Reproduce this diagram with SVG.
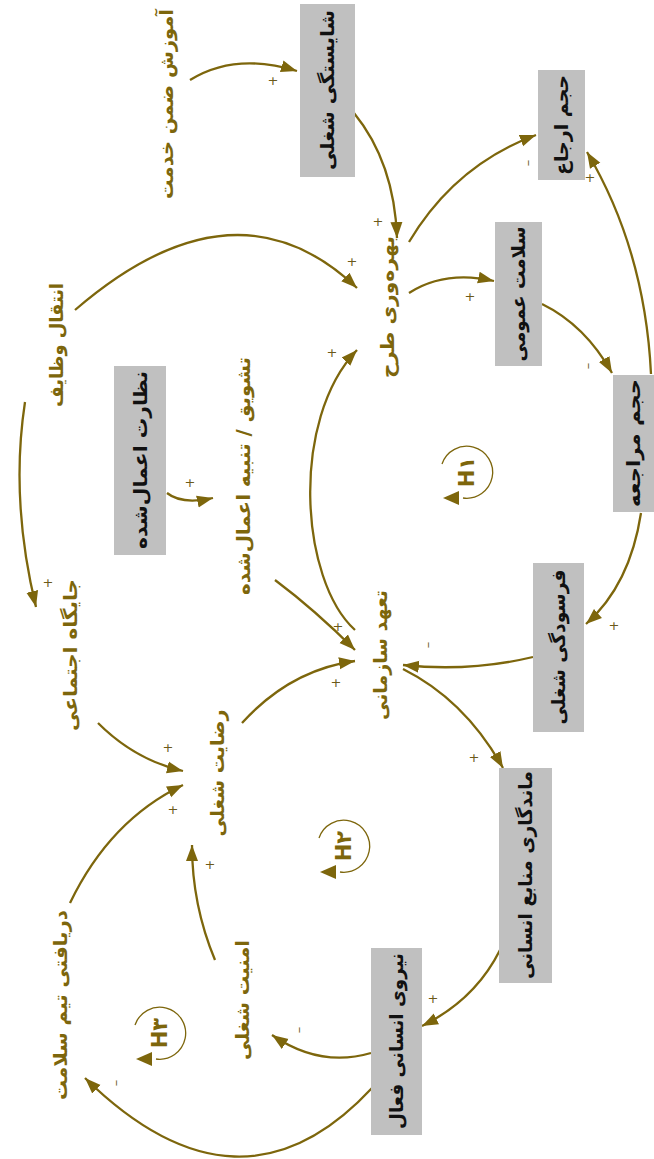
<svg xmlns="http://www.w3.org/2000/svg" width="654" height="1159" viewBox="0 0 654 1159">
  <style>
    .box { fill: #c0c0c0; }
    .node-label { font-family: "DejaVu Sans", sans-serif; font-weight: bold; font-size: 19px; fill: #111; }
    .var-label { font-family: "DejaVu Sans", sans-serif; font-weight: bold; font-size: 19px; fill: #7d660c; }
    .link { fill: none; stroke: #7d660c; stroke-width: 2.3; marker-end: url(#arrow); }
    .sign { font-family: "DejaVu Sans", sans-serif; font-size: 13px; fill: #6b5a1a; }
    .loop-ring { fill: none; stroke: #7d660c; stroke-width: 1.3; }
    .loop-head { fill: #7d660c; }
    .loop-label { font-family: "DejaVu Sans", sans-serif; font-weight: bold; font-size: 21px; fill: #7d660c; }
  </style>
  <defs>
    <marker id="arrow" markerUnits="userSpaceOnUse" markerWidth="18" markerHeight="14" refX="16" refY="7" orient="auto">
      <path d="M0,1 L16,7 L0,13 Z" fill="#7d660c"/>
    </marker>
  </defs>

  <rect width="654" height="1159" fill="#ffffff"/>

  <!-- connectors -->
  <g id="connectors">
    <path class="link" d="M190,80 Q235,52 297,71"/>
    <path class="link" d="M354,113 C376,140 395,180 397,238"/>
    <path class="link" d="M409,242 Q455,165 536,135"/>
    <path class="link" d="M409,293 Q445,270 494,281"/>
    <path class="link" d="M542,304 Q585,325 612,373"/>
    <path class="link" d="M651,374 Q645,250 587,152"/>
    <path class="link" d="M641,513 Q630,585 586,624"/>
    <path class="link" d="M533,657 Q470,672 403,665"/>
    <path class="link" d="M403,669 Q465,700 503,768"/>
    <path class="link" d="M500,950 Q475,1000 422,1026"/>
    <path class="link" d="M371,1053 Q320,1068 272,1035"/>
    <path class="link" d="M372,1088 Q240,1230 85,1078"/>
    <path class="link" d="M70,903 Q110,820 183,785"/>
    <path class="link" d="M215,960 Q192,905 192,845"/>
    <path class="link" d="M98,723 Q135,760 183,771"/>
    <path class="link" d="M25,402 Q10,500 36,607"/>
    <path class="link" d="M75,310 Q235,172 357,288"/>
    <path class="link" d="M167,493 Q182,505 213,498"/>
    <path class="link" d="M275,580 Q315,610 355,650"/>
    <path class="link" d="M242,723 Q290,670 355,661"/>
    <path class="link" d="M355,630 C300,580 290,420 357,350"/>
  </g>

  <!-- polarity signs -->
  <g id="signs">
    <text class="sign" x="273" y="85" text-anchor="middle">+</text>
    <text class="sign" x="378" y="226" text-anchor="middle">+</text>
    <text class="sign" transform="translate(527,163) rotate(-90)" text-anchor="middle" dominant-baseline="central">–</text>
    <text class="sign" x="470" y="301" text-anchor="middle">+</text>
    <text class="sign" transform="translate(587,366) rotate(-90)" text-anchor="middle" dominant-baseline="central">–</text>
    <text class="sign" x="590" y="182" text-anchor="middle">+</text>
    <text class="sign" x="614" y="630" text-anchor="middle">+</text>
    <text class="sign" transform="translate(427,645) rotate(-90)" text-anchor="middle" dominant-baseline="central">–</text>
    <text class="sign" x="474" y="762" text-anchor="middle">+</text>
    <text class="sign" x="433" y="1003" text-anchor="middle">+</text>
    <text class="sign" transform="translate(298,1030) rotate(-90)" text-anchor="middle" dominant-baseline="central">–</text>
    <text class="sign" transform="translate(115,1083) rotate(-90)" text-anchor="middle" dominant-baseline="central">–</text>
    <text class="sign" x="173" y="814" text-anchor="middle">+</text>
    <text class="sign" x="210" y="869" text-anchor="middle">+</text>
    <text class="sign" x="168" y="752" text-anchor="middle">+</text>
    <text class="sign" x="48" y="587" text-anchor="middle">+</text>
    <text class="sign" x="352" y="266" text-anchor="middle">+</text>
    <text class="sign" x="190" y="487" text-anchor="middle">+</text>
    <text class="sign" x="338" y="631" text-anchor="middle">+</text>
    <text class="sign" x="336" y="687" text-anchor="middle">+</text>
    <text class="sign" x="332" y="357" text-anchor="middle">+</text>
  </g>

  <!-- boxed variables -->
  <g id="n-competence">
    <rect class="box" x="300" y="4" width="55" height="173"/>
    <text class="node-label" transform="translate(327,90) rotate(-90)" text-anchor="middle" dominant-baseline="central" textLength="160" lengthAdjust="spacingAndGlyphs">شایستگی شغلی</text>
  </g>
  <g id="n-referral-volume">
    <rect class="box" x="538" y="70" width="47" height="110"/>
    <text class="node-label" transform="translate(561,125) rotate(-90)" text-anchor="middle" dominant-baseline="central" textLength="100" lengthAdjust="spacingAndGlyphs">حجم ارجاع</text>
  </g>
  <g id="n-public-health">
    <rect class="box" x="495" y="222" width="47" height="144"/>
    <text class="node-label" transform="translate(518,294) rotate(-90)" text-anchor="middle" dominant-baseline="central" textLength="135" lengthAdjust="spacingAndGlyphs">سلامت عمومی</text>
  </g>
  <g id="n-visit-volume">
    <rect class="box" x="613" y="375" width="41" height="137"/>
    <text class="node-label" transform="translate(633,443) rotate(-90)" text-anchor="middle" dominant-baseline="central" textLength="128" lengthAdjust="spacingAndGlyphs">حجم مراجعه</text>
  </g>
  <g id="n-supervision">
    <rect class="box" x="114" y="366" width="52" height="189"/>
    <text class="node-label" transform="translate(140,460) rotate(-90)" text-anchor="middle" dominant-baseline="central" textLength="178" lengthAdjust="spacingAndGlyphs">نظارت اعمال‌شده</text>
  </g>
  <g id="n-burnout">
    <rect class="box" x="533" y="563" width="51" height="169"/>
    <text class="node-label" transform="translate(558,647) rotate(-90)" text-anchor="middle" dominant-baseline="central" textLength="155" lengthAdjust="spacingAndGlyphs">فرسودگی شغلی</text>
  </g>
  <g id="n-retention">
    <rect class="box" x="499" y="768" width="53" height="215"/>
    <text class="node-label" transform="translate(525,875) rotate(-90)" text-anchor="middle" dominant-baseline="central" textLength="208" lengthAdjust="spacingAndGlyphs">ماندگاری منابع انسانی</text>
  </g>
  <g id="n-active-workforce">
    <rect class="box" x="371" y="948" width="51" height="187"/>
    <text class="node-label" transform="translate(396,1041) rotate(-90)" text-anchor="middle" dominant-baseline="central" textLength="176" lengthAdjust="spacingAndGlyphs">نیروی انسانی فعال</text>
  </g>

  <!-- plain variables -->
  <g id="n-training">
    <text class="var-label" transform="translate(166,104) rotate(-90)" text-anchor="middle" dominant-baseline="central" textLength="190" lengthAdjust="spacingAndGlyphs">آموزش ضمن خدمت</text>
  </g>
  <g id="n-job-rotation">
    <text class="var-label" transform="translate(56,345) rotate(-90)" text-anchor="middle" dominant-baseline="central" textLength="124" lengthAdjust="spacingAndGlyphs">انتقال وظایف</text>
  </g>
  <g id="n-reward">
    <text class="var-label" transform="translate(243,476) rotate(-90)" text-anchor="middle" dominant-baseline="central" textLength="238" lengthAdjust="spacingAndGlyphs">تشویق / تنبیه اعمال‌شده</text>
  </g>
  <g id="n-productivity">
    <text class="var-label" transform="translate(387,307) rotate(-90)" text-anchor="middle" dominant-baseline="central" textLength="142" lengthAdjust="spacingAndGlyphs">بهره‌وری طرح</text>
  </g>
  <g id="n-commitment">
    <text class="var-label" transform="translate(380,655) rotate(-90)" text-anchor="middle" dominant-baseline="central" textLength="130" lengthAdjust="spacingAndGlyphs">تعهد سازمانی</text>
  </g>
  <g id="n-satisfaction">
    <text class="var-label" transform="translate(217,773) rotate(-90)" text-anchor="middle" dominant-baseline="central" textLength="127" lengthAdjust="spacingAndGlyphs">رضایت شغلی</text>
  </g>
  <g id="n-social-status">
    <text class="var-label" transform="translate(70,655) rotate(-90)" text-anchor="middle" dominant-baseline="central" textLength="152" lengthAdjust="spacingAndGlyphs">جایگاه اجتماعی</text>
  </g>
  <g id="n-pay">
    <text class="var-label" transform="translate(60,1005) rotate(-90)" text-anchor="middle" dominant-baseline="central" textLength="190" lengthAdjust="spacingAndGlyphs">دریافتی تیم سلامت</text>
  </g>
  <g id="n-job-security">
    <text class="var-label" transform="translate(242,1000) rotate(-90)" text-anchor="middle" dominant-baseline="central" textLength="120" lengthAdjust="spacingAndGlyphs">امنیت شغلی</text>
  </g>

  <!-- loop markers -->
  <g id="loop-h1" transform="translate(467,472)">
    <path class="loop-ring" d="M-25,-8 A26,26 0 1,1 -4,26"/>
    <path class="loop-head" d="M-24,26 L-8,19 L-8,33 Z"/>
    <text class="loop-label" transform="rotate(-90)" text-anchor="middle" dominant-baseline="central">H۱</text>
  </g>
  <g id="loop-h2" transform="translate(344,846)">
    <path class="loop-ring" d="M-25,-8 A26,26 0 1,1 -4,26"/>
    <path class="loop-head" d="M-24,26 L-8,19 L-8,33 Z"/>
    <text class="loop-label" transform="rotate(-90)" text-anchor="middle" dominant-baseline="central">H۲</text>
  </g>
  <g id="loop-h3" transform="translate(160,1033)">
    <path class="loop-ring" d="M-25,-8 A26,26 0 1,1 -4,26"/>
    <path class="loop-head" d="M-24,26 L-8,19 L-8,33 Z"/>
    <text class="loop-label" transform="rotate(-90)" text-anchor="middle" dominant-baseline="central">H۳</text>
  </g>
</svg>
